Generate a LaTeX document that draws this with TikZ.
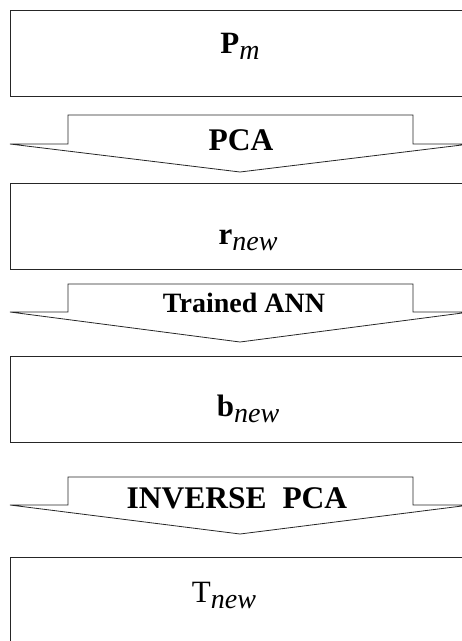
\documentclass[tikz,border=0pt]{standalone}
\usepackage{fontspec}
\setmainfont{Liberation Serif}

\tikzset{
  blk/.style={draw=black!85,line width=0.8pt,minimum width=460pt,minimum height=86pt,inner sep=0pt},
  flow/.style={draw=black!85,line width=0.8pt},
  lbl/.style={font=\bfseries\fontsize{31.5}{34}\selectfont,inner sep=0pt,anchor=base},
  var/.style={font=\fontsize{31}{34}\selectfont,inner sep=0pt,anchor=base}
}
\newcommand{\subtxt}[1]{\raisebox{-0.2em}{\fontsize{28}{30}\selectfont\itshape #1}}
% block arrow: top, shoulder, tip
\newcommand{\flowarrow}[3]{%
  \draw[flow] (10,#2) -- (68,#2) -- (68,#1) -- (413,#1) -- (413,#2) -- (470,#2) -- (240,#3) -- cycle;}

\begin{document}
\begin{tikzpicture}[x=1pt,y=-1pt]
\useasboundingbox (0,0) rectangle (462,641);
\clip (0,0) rectangle (462,641);

% blocks
\node[blk] (pm)   at (240,53.5) {};
\node[blk] (rnew) at (240,226) {};
\node[blk] (bnew) at (240,399) {};
\node[blk] (tnew) at (240,600) {};

\node[var] (pmtxt) at (240,53) {\textbf{P}\subtxt{m}};
\node[var] (rtxt)  at (248,244) {\textbf{r}\subtxt{new}};
\node[var] (btxt)  at (248,416) {\textbf{b}\subtxt{new}};
\node[var] (ttxt)  at (224,602) {T\subtxt{new}};

% block arrows
\flowarrow{115}{144}{172}
\flowarrow{284}{312}{342}
\flowarrow{477}{505}{534}

\node[lbl] (pca)  at (241,150) {PCA};
\node[lbl,font=\bfseries\fontsize{28}{30}\selectfont] (ann) at (244,312) {Trained ANN};
\node[lbl] (ipca) at (237,508) {INVERSE\ \ PCA};
\end{tikzpicture}
\end{document}
